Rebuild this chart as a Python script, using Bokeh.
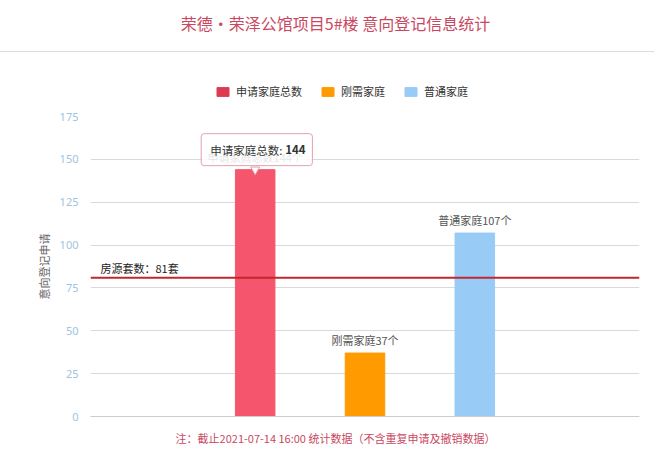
from bokeh.plotting import figure
from bokeh.models import (ColumnDataSource, Range1d, Span, Label, FixedTicker,
                          Legend, LegendItem, Spacer)
from bokeh.layouts import column
from bokeh.embed import file_html
from bokeh.resources import INLINE
from bokeh.core.properties import value

# chart data
title = "荣德·荣泽公馆项目5#楼 意向登记信息统计"
note = "注：截止2021-07-14 16:00 统计数据（不含重复申请及撤销数据）"
y_label = "意向登记申请"
categories = ["申请家庭总数", "刚需家庭", "普通家庭"]
counts = [144, 37, 107]
colors = ["#f5566e", "#ff9a00", "#99cbf7"]
legend_colors = ["#dc3a52", "#ff9a00", "#99cbf7"]
supply = 81
supply_label = "房源套数：81套"
y_ticks = [0, 25, 50, 75, 100, 125, 150, 175]

FONT = "Noto Sans CJK SC"
W = 654
LEFT, RIGHT = 90, 15


def strip(height):
    # a plain band whose frame is measured in pixels
    f = figure(width=W, height=height, x_range=Range1d(LEFT, W - RIGHT),
               y_range=Range1d(0, height), x_axis_type=None, y_axis_type=None,
               min_border_left=LEFT, min_border_right=RIGHT,
               min_border_top=0, min_border_bottom=0,
               toolbar_location=None, output_backend="svg")
    f.grid.visible = False
    f.outline_line_color = None
    return f


xs = [i + 1.5 for i in range(len(categories))]
labels = [f"{c}{n}个" for c, n in zip(categories, counts)]
src = ColumnDataSource(dict(x=xs, top=counts, cat=categories, color=colors, label=labels))
leg_src = ColumnDataSource(dict(x=xs, top=counts, color=legend_colors))

# header with the title
head = strip(51)
head.text(x=[335], y=[29], text=[title], text_align="center", text_baseline="middle",
          text_font=value(FONT), text_font_size="16px", text_color="#c9485f")

# thin separator line
sep = Spacer(width=W, height=1, styles={"background-color": "#dcdcdc"})

# legend band (its bars sit far outside the band's ranges, only the legend shows)
leg = strip(54)
leg.y_range = Range1d(1000, 1054)
leg_bars = leg.vbar(x="x", top="top", width=0.36, color="color", source=leg_src)
items = [LegendItem(label=c, renderers=[leg_bars], index=i) for i, c in enumerate(categories)]
lg = Legend(items=items, orientation="horizontal", location=(125, 5), margin=0,
            padding=0, spacing=18, border_line_color=None, background_fill_alpha=0,
            glyph_width=15, glyph_height=11, label_standoff=6, label_height=20,
            label_text_font=FONT, label_text_font_size="11px", label_text_color="#333333")
leg.add_layout(lg)

# main chart
p = figure(width=W, height=318, x_range=Range1d(0, len(categories) + 2),
           y_range=Range1d(0, y_ticks[-1]), min_border_left=LEFT, min_border_right=RIGHT,
           min_border_top=10, min_border_bottom=8,
           toolbar_location=None, output_backend="svg")
p.outline_line_color = None
p.xgrid.visible = False
p.ygrid.grid_line_color = "#d9d9d9"
p.ygrid.ticker = FixedTicker(ticks=y_ticks)

p.xaxis.ticker = FixedTicker(ticks=[])
p.xaxis.axis_line_color = "#cccccc"
p.xaxis.major_tick_line_color = None
p.xaxis.minor_tick_line_color = None
p.xaxis.major_tick_out = 0
p.xaxis.major_label_standoff = 0

p.yaxis.ticker = FixedTicker(ticks=y_ticks)
p.yaxis.axis_line_color = None
p.yaxis.major_tick_line_color = None
p.yaxis.minor_tick_line_color = None
p.yaxis.major_tick_out = 0
p.yaxis.major_label_text_color = "#9fc3e0"
p.yaxis.major_label_text_font = "Noto Sans"
p.yaxis.major_label_text_font_size = "11px"
p.yaxis.major_label_standoff = 12
p.yaxis.axis_label = y_label
p.yaxis.axis_label_text_font = FONT
p.yaxis.axis_label_text_font_style = "normal"
p.yaxis.axis_label_text_font_size = "11px"
p.yaxis.axis_label_text_color = "#666666"
p.yaxis.axis_label_standoff = 5

p.vbar(x="x", top="top", width=0.36, color="color", source=src)
p.text(x="x", y="top", text="label", source=src, y_offset=-5,
       text_align="center", text_baseline="bottom",
       text_font=value(FONT), text_font_size="11px", text_color="#555555")

p.add_layout(Span(location=supply, dimension="width", line_color="#c0282d", line_width=2))
p.add_layout(Label(x=0, y=supply, x_offset=10, y_offset=2, text=supply_label,
                   text_baseline="bottom", text_font=FONT, text_font_size="11px",
                   text_color="#222222"))

# static tooltip over the first bar, with its little pointer
p.scatter(x=[xs[0]], y=[counts[0]], marker="inverted_triangle", size=9,
          fill_color="white", line_color="#e3a1ae")
p.add_layout(Label(x=xs[0], y=counts[0], x_offset=-54, y_offset=20, anchor="center_left",
                   text=f"{categories[0]}:", text_font=FONT, text_font_size="11.5px",
                   text_color="#333333", padding=(9, 30, 8, 8),
                   background_fill_color="white", background_fill_alpha=0.85,
                   border_line_color="#e3a1ae", border_line_width=1, border_radius=3))
p.add_layout(Label(x=xs[0], y=counts[0], x_offset=30, y_offset=20, anchor="center_left",
                   text=str(counts[0]), text_font=FONT, text_font_size="11.5px",
                   text_font_style="bold", text_color="#333333", padding=(0, 0, 8, 8)))

# footnote band
foot = strip(22)
foot.text(x=[335], y=[9], text=[note], text_align="center", text_baseline="middle",
          text_font=value(FONT), text_font_size="11px", text_color="#c9485f")

layout = column(head, sep, leg, p, foot)
open("out.html", "w").write(file_html(layout, INLINE))
